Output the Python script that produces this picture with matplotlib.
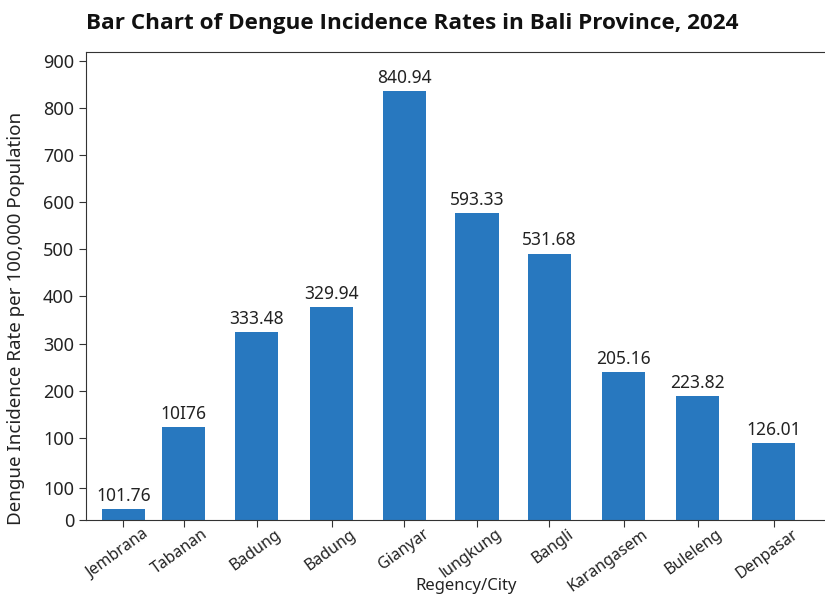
import matplotlib
matplotlib.use("Agg")
import matplotlib.pyplot as plt

# regencies / cities as labelled under the bars
regions = ['Jembrana', 'Tabanan', 'Badung', 'Badung', 'Gianyar',
           'lungkung', 'Bangli', 'Karangasem', 'Buleleng', 'Denpasar']
# annotation text printed above each bar
bar_labels = ['101.76', '10I76', '333.48', '329.94', '840.94',
              '593.33', '531.68', '205.16', '223.82', '126.01']
heights = [24, 198, 401, 453, 913, 653, 567, 315, 265, 164]
# category positions (the original spacing is not quite even)
x_pos = [0, 0.82, 1.81, 2.83, 3.82, 4.81, 5.79, 6.8, 7.81, 8.84]

# y tick labels of the original and where they sit
ytick_labels = ['0', '100', '100', '200', '300', '400', '500', '600', '700', '800', '900']
ytick_pos = [0, 69, 176, 276, 376, 476, 576, 676, 776, 876, 976]

plt.rcParams['font.family'] = ['Noto Sans', 'DejaVu Sans']

fig = plt.figure(figsize=(8.25, 5.96), dpi=100)
ax = fig.add_axes([0.1042, 0.1267, 0.8958, 0.7866])

ax.bar(x_pos, heights, width=0.59, color='#2878bf')

for x, h, t in zip(x_pos, heights, bar_labels):
    ax.annotate(t, (x, h), xytext=(0, 3), textcoords='offset points',
                ha='center', va='bottom', fontsize=12.5, color='#222222')

ax.set_xlim(-0.51, 9.54)
ax.set_ylim(0, 996)
ax.set_yticks(ytick_pos)
ax.set_yticklabels(ytick_labels, fontsize=13)
ax.set_xticks(x_pos)
ax.set_xticklabels([])
# category names end a little to the right of their ticks, as in the original
for x, name in zip(x_pos, regions):
    ax.annotate(name, (x, 0), xycoords=('data', 'axes fraction'),
                xytext=(13, -4), textcoords='offset points',
                rotation=36, rotation_mode='anchor', ha='right', va='top',
                fontsize=11.5, color='#222222', annotation_clip=False)
ax.tick_params(axis='both', length=5, color='#333333', labelcolor='#222222')
ax.spines['right'].set_visible(False)
for s in ['left', 'top', 'bottom']:
    ax.spines[s].set_color('#333333')

ax.set_ylabel('Dengue Incidence Rate per 100,000 Population', fontsize=13.5, color='#222222')
ax.yaxis.set_label_coords(-0.082, 0.43)
ax.set_xlabel('Regency/City', fontsize=12, color='#222222', va='center')
ax.xaxis.set_label_coords(0.515, -0.14)

fig.text(0.5, 1 - 23 / 596, 'Bar Chart of Dengue Incidence Rates in Bali Province, 2024',
         ha='center', va='center', fontsize=16.2, fontweight='bold', color='#111111',
         family=['Open Sans', 'DejaVu Sans'])

fig.savefig('out.png', dpi=100)
